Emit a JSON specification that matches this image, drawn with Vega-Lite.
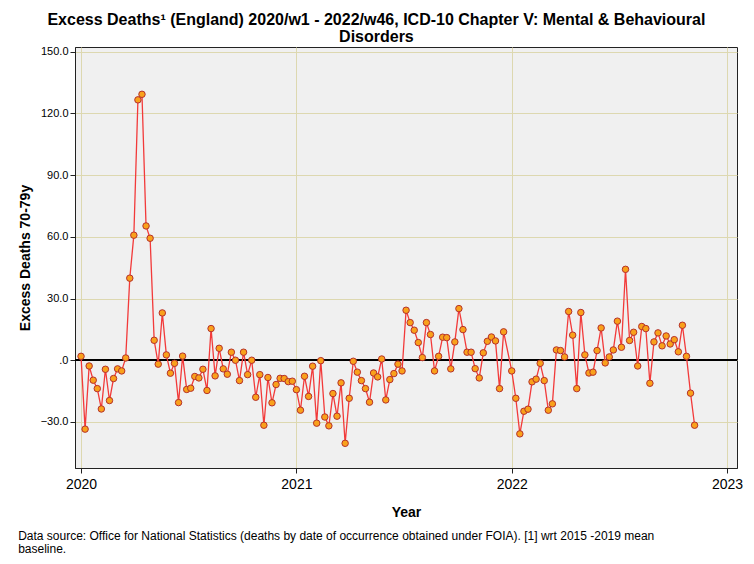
{
  "$schema": "https://vega.github.io/schema/vega-lite/v6.json",
  "background": "white",
  "padding": {"left": 17, "top": 12, "right": 5, "bottom": 5},
  "config": {
    "font": "Liberation Sans",
    "view": {"fill": "#F0F0F0", "stroke": "#222222", "strokeWidth": 1},
    "axis": {
      "domainColor": "#222222", "tickColor": "#222222", "tickSize": 5,
      "gridColor": "#DDD8B0", "gridWidth": 1, "labelColor": "#000000",
      "titleColor": "#000000", "titleFontWeight": "bold", "titleFontSize": 14
    },
    "concat": {"spacing": 0}
  },
  "title": {
    "text": ["Excess Deaths¹ (England) 2020/w1 - 2022/w46, ICD-10 Chapter V: Mental & Behavioural", "Disorders"],
    "fontSize": 16, "fontWeight": "bold", "anchor": "middle", "color": "#000000", "lineHeight": 17, "offset": 0, "dx": -4
  },
  "vconcat": [
    {
      "width": 662,
      "height": 421,
      "title": {
        "text": ["Data source: Office for National Statistics (deaths by date of occurrence obtained under FOIA). [1] wrt 2015 -2019 mean", "baseline."],
        "orient": "bottom", "anchor": "start", "frame": "bounds",
        "fontSize": 12, "fontWeight": "normal", "color": "#000000", "lineHeight": 13, "offset": 12
      },
      "data": {"values": [
        {"x": 2020.0000, "v": 1.9}, {"x": 2020.0189, "v": -33.5}, {"x": 2020.0377, "v": -2.8}, {"x": 2020.0566, "v": -9.7},
        {"x": 2020.0755, "v": -13.8}, {"x": 2020.0943, "v": -23.7}, {"x": 2020.1132, "v": -4.4}, {"x": 2020.1321, "v": -19.6},
        {"x": 2020.1509, "v": -8.9}, {"x": 2020.1698, "v": -4.2}, {"x": 2020.1887, "v": -5.2}, {"x": 2020.2075, "v": 1.1},
        {"x": 2020.2264, "v": 39.9}, {"x": 2020.2453, "v": 60.8}, {"x": 2020.2642, "v": 126.6}, {"x": 2020.2830, "v": 129.3},
        {"x": 2020.3019, "v": 65.3}, {"x": 2020.3208, "v": 59.3}, {"x": 2020.3396, "v": 9.7}, {"x": 2020.3585, "v": -1.9},
        {"x": 2020.3774, "v": 23.0}, {"x": 2020.3962, "v": 2.6}, {"x": 2020.4151, "v": -6.3}, {"x": 2020.4340, "v": -1.5},
        {"x": 2020.4528, "v": -20.6}, {"x": 2020.4717, "v": 2.0}, {"x": 2020.4906, "v": -14.2}, {"x": 2020.5094, "v": -13.6},
        {"x": 2020.5283, "v": -7.9}, {"x": 2020.5472, "v": -8.6}, {"x": 2020.5660, "v": -4.4}, {"x": 2020.5849, "v": -14.7},
        {"x": 2020.6038, "v": 15.4}, {"x": 2020.6226, "v": -7.6}, {"x": 2020.6415, "v": 5.8}, {"x": 2020.6604, "v": -4.2},
        {"x": 2020.6792, "v": -6.8}, {"x": 2020.6981, "v": 3.9}, {"x": 2020.7170, "v": 0.0}, {"x": 2020.7358, "v": -9.9},
        {"x": 2020.7547, "v": 3.9}, {"x": 2020.7736, "v": -7.0}, {"x": 2020.7925, "v": 0.0}, {"x": 2020.8113, "v": -18.0},
        {"x": 2020.8302, "v": -7.0}, {"x": 2020.8491, "v": -31.6}, {"x": 2020.8679, "v": -8.4}, {"x": 2020.8868, "v": -20.7},
        {"x": 2020.9057, "v": -11.8}, {"x": 2020.9245, "v": -8.8}, {"x": 2020.9434, "v": -8.9}, {"x": 2020.9623, "v": -10.4},
        {"x": 2020.9811, "v": -10.2},
        {"x": 2021.0000, "v": -14.3}, {"x": 2021.0189, "v": -24.3}, {"x": 2021.0377, "v": -7.8}, {"x": 2021.0566, "v": -17.6},
        {"x": 2021.0755, "v": -2.9}, {"x": 2021.0943, "v": -30.6}, {"x": 2021.1132, "v": -0.2}, {"x": 2021.1321, "v": -27.6},
        {"x": 2021.1509, "v": -31.9}, {"x": 2021.1698, "v": -16.2}, {"x": 2021.1887, "v": -27.2}, {"x": 2021.2075, "v": -11.0},
        {"x": 2021.2264, "v": -40.4}, {"x": 2021.2453, "v": -18.5}, {"x": 2021.2642, "v": -0.5}, {"x": 2021.2830, "v": -5.8},
        {"x": 2021.3019, "v": -9.9}, {"x": 2021.3208, "v": -13.8}, {"x": 2021.3396, "v": -20.4}, {"x": 2021.3585, "v": -6.2},
        {"x": 2021.3774, "v": -8.1}, {"x": 2021.3962, "v": 0.6}, {"x": 2021.4151, "v": -19.3}, {"x": 2021.4340, "v": -9.4},
        {"x": 2021.4528, "v": -6.5}, {"x": 2021.4717, "v": -1.9}, {"x": 2021.4906, "v": -5.2}, {"x": 2021.5094, "v": 24.3},
        {"x": 2021.5283, "v": 18.3}, {"x": 2021.5472, "v": 14.6}, {"x": 2021.5660, "v": 8.6}, {"x": 2021.5849, "v": 1.3},
        {"x": 2021.6038, "v": 18.3}, {"x": 2021.6226, "v": 12.5}, {"x": 2021.6415, "v": -5.2}, {"x": 2021.6604, "v": 1.9},
        {"x": 2021.6792, "v": 11.2}, {"x": 2021.6981, "v": 11.0}, {"x": 2021.7170, "v": -4.2}, {"x": 2021.7358, "v": 8.9},
        {"x": 2021.7547, "v": 25.1}, {"x": 2021.7736, "v": 14.9}, {"x": 2021.7925, "v": 3.9}, {"x": 2021.8113, "v": 3.9},
        {"x": 2021.8302, "v": -4.1}, {"x": 2021.8491, "v": -8.6}, {"x": 2021.8679, "v": 3.6}, {"x": 2021.8868, "v": 9.2},
        {"x": 2021.9057, "v": 11.3}, {"x": 2021.9245, "v": 9.4}, {"x": 2021.9434, "v": -13.8}, {"x": 2021.9623, "v": 13.8},
        {"x": 2022.0000, "v": -5.2}, {"x": 2022.0189, "v": -18.5}, {"x": 2022.0377, "v": -35.8}, {"x": 2022.0566, "v": -24.8},
        {"x": 2022.0755, "v": -23.8}, {"x": 2022.0943, "v": -10.5}, {"x": 2022.1132, "v": -9.2}, {"x": 2022.1321, "v": -1.5},
        {"x": 2022.1509, "v": -9.9}, {"x": 2022.1698, "v": -24.3}, {"x": 2022.1887, "v": -21.2}, {"x": 2022.2075, "v": 5.0},
        {"x": 2022.2264, "v": 4.7}, {"x": 2022.2453, "v": 1.6}, {"x": 2022.2642, "v": 23.7}, {"x": 2022.2830, "v": 12.2},
        {"x": 2022.3019, "v": -13.8}, {"x": 2022.3208, "v": 23.2}, {"x": 2022.3396, "v": 2.6}, {"x": 2022.3585, "v": -6.2},
        {"x": 2022.3774, "v": -5.8}, {"x": 2022.3962, "v": 4.7}, {"x": 2022.4151, "v": 15.7}, {"x": 2022.4340, "v": -1.3},
        {"x": 2022.4528, "v": 1.6}, {"x": 2022.4717, "v": 5.0}, {"x": 2022.4906, "v": 19.0}, {"x": 2022.5094, "v": 6.3},
        {"x": 2022.5283, "v": 44.2}, {"x": 2022.5472, "v": 9.6}, {"x": 2022.5660, "v": 13.6}, {"x": 2022.5849, "v": -2.8},
        {"x": 2022.6038, "v": 16.4}, {"x": 2022.6226, "v": 15.4}, {"x": 2022.6415, "v": -11.2}, {"x": 2022.6604, "v": 8.9},
        {"x": 2022.6792, "v": 13.3}, {"x": 2022.6981, "v": 7.0}, {"x": 2022.7170, "v": 11.8}, {"x": 2022.7358, "v": 7.9},
        {"x": 2022.7547, "v": 10.0}, {"x": 2022.7736, "v": 4.1}, {"x": 2022.7925, "v": 17.0}, {"x": 2022.8113, "v": 1.9},
        {"x": 2022.8302, "v": -16.0}, {"x": 2022.8491, "v": -31.6}
      ]},
      "encoding": {
        "x": {
          "field": "x", "type": "quantitative",
          "scale": {"domain": [2019.972, 2023.046], "nice": false, "zero": false},
          "axis": {"values": [2020, 2021, 2022, 2023], "format": "d", "title": "Year", "labelFontSize": 14, "labelPadding": 4, "titlePadding": 14}
        },
        "y": {
          "field": "v", "type": "quantitative",
          "scale": {"domain": [-52.4, 152.3], "nice": false, "zero": false},
          "axis": {"values": [-30, 0, 30, 60, 90, 120, 150], "labelExpr": "datum.value == 0 ? '.0' : format(datum.value, '.1f')", "title": "Excess Deaths 70-79y", "labelFontSize": 11, "titlePadding": 8}
        }
      },
      "layer": [
        {"mark": {"type": "rule", "color": "#000000", "strokeWidth": 1.3}, "encoding": {"x": {"value": 0}, "x2": {"value": 662}, "y": {"datum": 0}}},
        {"mark": {"type": "line", "color": "#F23A3A", "strokeWidth": 1.3}},
        {"mark": {"type": "point", "filled": true, "fill": "#F9A11B", "stroke": "#B5302B", "strokeWidth": 1, "size": 42, "opacity": 1}}
      ]
    }
  ]
}
